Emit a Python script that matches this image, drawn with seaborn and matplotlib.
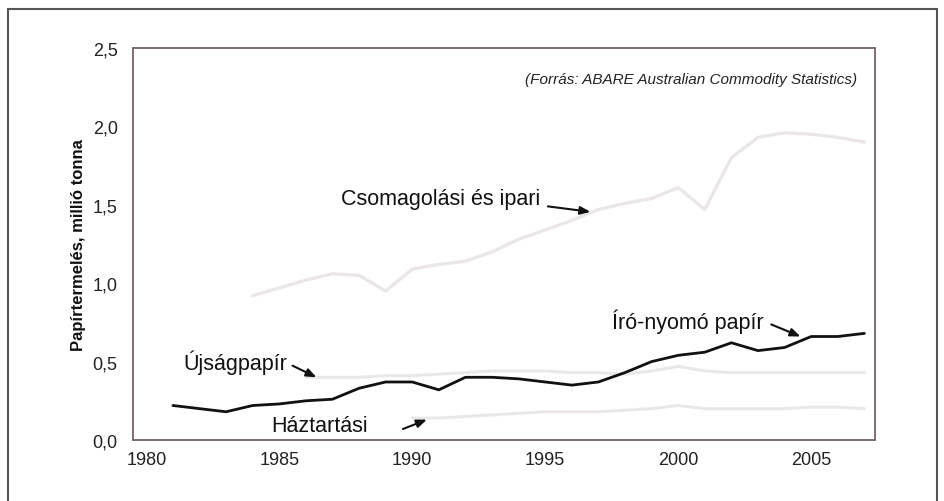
import matplotlib
matplotlib.use("Agg")
import matplotlib.pyplot as plt
import matplotlib.patches as mpatches
import seaborn as sns
import pandas as pd

# ---- data ----
years_iro = list(range(1981, 2008))
iro_nyomo = [0.22, 0.20, 0.18, 0.22, 0.23, 0.25, 0.26, 0.33, 0.37, 0.37, 0.32, 0.40,
             0.40, 0.39, 0.37, 0.35, 0.37, 0.43, 0.50, 0.54, 0.56, 0.62, 0.57, 0.59,
             0.66, 0.66, 0.68]

years_csom = list(range(1984, 2008))
csomagolasi = [0.92, 0.97, 1.02, 1.06, 1.05, 0.95, 1.09, 1.12, 1.14, 1.20, 1.28, 1.34,
               1.40, 1.47, 1.51, 1.54, 1.61, 1.47, 1.80, 1.93, 1.96, 1.95, 1.93, 1.90]

years_ujsag = list(range(1986, 2008))
ujsagpapir = [0.40, 0.40, 0.40, 0.41, 0.41, 0.42, 0.43, 0.44, 0.44, 0.44, 0.43, 0.43,
              0.42, 0.44, 0.47, 0.44, 0.43, 0.43, 0.43, 0.43, 0.43, 0.43]

years_haz = list(range(1990, 2008))
haztartasi = [0.14, 0.14, 0.15, 0.16, 0.17, 0.18, 0.18, 0.18, 0.19, 0.20, 0.22, 0.20,
              0.20, 0.20, 0.20, 0.21, 0.21, 0.20]

x_ticks = [1980, 1985, 1990, 1995, 2000, 2005]
y_ticks = [0.0, 0.5, 1.0, 1.5, 2.0, 2.5]
y_ticklabels = ["0,0", "0,5", "1,0", "1,5", "2,0", "2,5"]

# ---- style ----
sns.set_theme(style="white")
plt.rcParams['font.family'] = ['Liberation Sans', 'DejaVu Sans']

fig = plt.figure(figsize=(9.45, 5.02), dpi=100)
ax = fig.add_axes([133 / 945, 1 - 441 / 502, (875 - 133) / 945, (441 - 49) / 502])

faint = "#ece7e7"
dfs = [
    (pd.DataFrame({"év": years_csom, "érték": csomagolasi}), faint, 2.4),
    (pd.DataFrame({"év": years_ujsag, "érték": ujsagpapir}), faint, 2.2),
    (pd.DataFrame({"év": years_haz, "érték": haztartasi}), faint, 2.2),
    (pd.DataFrame({"év": years_iro, "érték": iro_nyomo}), "#111111", 2.0),
]
for d, c, lw in dfs:
    sns.lineplot(data=d, x="év", y="érték", ax=ax, color=c, linewidth=lw)

ax.set_xlim(1979.5, 2007.4)
ax.set_ylim(0, 2.5)
ax.set_xticks(x_ticks)
ax.set_xticklabels([str(t) for t in x_ticks])
ax.set_yticks(y_ticks)
ax.set_yticklabels(y_ticklabels)
ax.tick_params(axis="both", length=0, labelsize=13, colors="#222222")
ax.tick_params(axis="y", pad=11)
ax.tick_params(axis="x", pad=8)
ax.set_xlabel("")
ax.set_ylabel("Papírtermelés, millió tonna", fontsize=12, fontweight="bold",
              color="#111111", labelpad=5)

for s in ax.spines.values():
    s.set_color("#7a6e6e")
    s.set_linewidth(1.4)

txt_kw = dict(fontsize=15.5, color="#111111")
ax.text(1994.8, 1.54, "Csomagolási és ipari", ha="right", va="center", **txt_kw)
ax.text(1985.3, 0.50, "Újságpapír", ha="right", va="center", **txt_kw)
ax.text(1984.7, 0.095, "Háztartási", ha="left", va="center", **txt_kw)
ax.text(1997.5, 0.76, "Író-nyomó papír", ha="left", va="center", **txt_kw)

arr = dict(arrowstyle="-|>,head_length=0.5,head_width=0.2", color="#111111", lw=1.5,
           shrinkA=0, shrinkB=0)
ax.annotate("", xy=(1996.7, 1.455), xytext=(1995.1, 1.49), arrowprops=arr)
ax.annotate("", xy=(1986.4, 0.40), xytext=(1985.5, 0.474), arrowprops=arr)
ax.annotate("", xy=(1990.55, 0.13), xytext=(1989.65, 0.07), arrowprops=arr)
ax.annotate("", xy=(2004.6, 0.66), xytext=(2003.5, 0.737), arrowprops=arr)

ax.text(0.976, 0.921, "(Forrás: ABARE Australian Commodity Statistics)",
        transform=ax.transAxes, ha="right", va="center", fontsize=11,
        style="italic", color="#222222")

# outer frame
frame = mpatches.Rectangle((8 / 945, -0.05), (937 - 8) / 945, 1.05 - 10 / 502,
                           transform=fig.transFigure, fill=False,
                           edgecolor="#555555", linewidth=1.5)
fig.patches.append(frame)

fig.savefig("out.png", dpi=100)
